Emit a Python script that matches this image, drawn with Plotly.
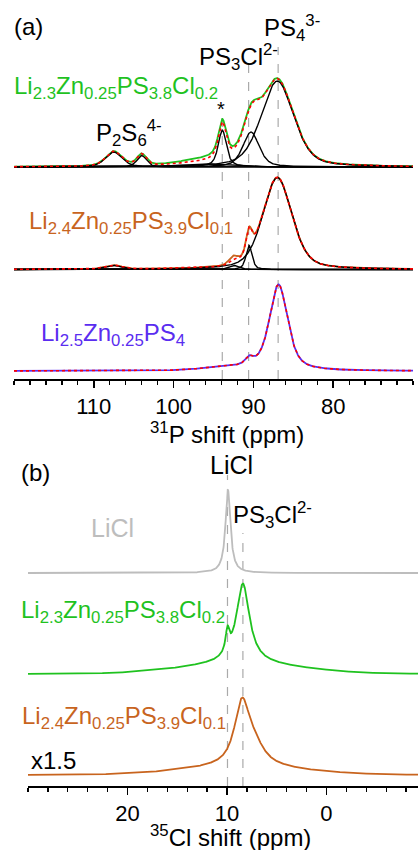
import numpy as np
import plotly.graph_objects as go

W, H = 418, 850
FONT = "Liberation Sans, Arial, sans-serif"

# ---------------- data: 31P spectra (panel a) ----------------
P_RANGE = [120, 70]
P_TICKS = [110, 100, 90, 80]
P_REFS = [93.9, 90.6, 86.9]          # *, PS3Cl2-, PS4 3- dashed guides
P_REF_TOPS = [264, 314, 332]

# component tables: centre (ppm), height, FWHM (ppm), lorentz fraction
TOP_C = [107.5, 104.0, 93.9, 90.3, 87.0, 96.0]
TOP_H = [15, 11.5, 37, 35, 86, 3]
TOP_W = [2.4, 1.4, 1.2, 2.4, 4.8, 8.0]
TOP_E = [0.5, 0.5, 0.7, 0.5, 0.4, 0.0]
TOP_EXTRA_C = [95.0]
TOP_EXTRA_H = [3]
TOP_EXTRA_W = [9]
TOP_BASE = 212

MID_C = [107.5, 92.4, 90.55, 87.0]
MID_H = [4, 4, 24, 92]
MID_W = [2.5, 1.5, 0.9, 4.3]
MID_E = [0.5, 0.5, 0.5, 0.4]
MID_EXTRA_C = [92.6]
MID_EXTRA_H = [4]
MID_EXTRA_W = [1.2]
MID_BASE = 109.5

BOT_C = [86.85, 90.5, 93.0]
BOT_H = [86, 7, 3]
BOT_W = [2.7, 1.2, 8.0]
BOT_E = [0.6, 0.5, 0.0]
BOT_BASE = 8

# ---------------- data: 35Cl spectra (panel b) ----------------
CL_RANGE = [30, -9.2]
CL_TICKS = [20, 10, 0]
CL_REFS = [9.95, 8.4]
CL_REF_TOPS = [311, 253]

LICL_C, LICL_H, LICL_W, LICL_E = [9.9], [83], [0.6], [1.0]
LICL_BASE = 213
G_C, G_H, G_W, G_E = [8.4, 9.95, 8.5], [80, 22, 10], [1.6, 0.45, 14], [1.0, 1.0, 0.0]
G_BASE = 112
O_C, O_H, O_W, O_E = [8.5, 7.3, 8.5], [60, 18, 8], [1.8, 2.5, 14], [0.9, 0.9, 0.0]
O_BASE = 11

GREEN = "#1fc21f"
ORANGE = "#c8641e"
BLUE = "#5a2df0"
GREY = "#bdbdbd"


def pv(x, x0, h, w, eta):
    u = ((x - x0) / (w / 2.0)) ** 2
    return h * (eta / (1 + u) + (1 - eta) * np.exp(-np.log(2) * u))


def total(x, C, Hh, Ww, E):
    return sum(pv(x, c, h, w, e) for c, h, w, e in zip(C, Hh, Ww, E))


xp = np.linspace(P_RANGE[0], P_RANGE[1], 1201)
xc = np.linspace(CL_RANGE[0], CL_RANGE[1], 1601)

fig = go.Figure()


def line(x, y, color, width=1.6, dash=None, xa="x", ya="y"):
    fig.add_trace(go.Scatter(x=x, y=y, mode="lines", xaxis=xa, yaxis=ya,
                             line=dict(color=color, width=width, dash=dash),
                             hoverinfo="skip", showlegend=False))


# top spectrum
fit = TOP_BASE + total(xp, TOP_C, TOP_H, TOP_W, TOP_E)
exp_ = fit + total(xp, TOP_EXTRA_C, TOP_EXTRA_H, TOP_EXTRA_W, [0.0])
line(xp, exp_, GREEN, 1.8)
for c, h, w, e in zip(TOP_C, TOP_H, TOP_W, TOP_E):
    line(xp, TOP_BASE + pv(xp, c, h, w, e), "black", 1.4)
line(xp, fit, "red", 1.6, "dot")

# middle spectrum
fit = MID_BASE + total(xp, MID_C, MID_H, MID_W, MID_E)
exp_ = fit + total(xp, MID_EXTRA_C, MID_EXTRA_H, MID_EXTRA_W, [0.5])
line(xp, exp_, ORANGE, 1.8)
for c, h, w, e in zip(MID_C, MID_H, MID_W, MID_E):
    line(xp, MID_BASE + pv(xp, c, h, w, e), "black", 1.4)
line(xp, fit, "red", 1.6, "dot")

# bottom spectrum
fit = BOT_BASE + total(xp, BOT_C, BOT_H, BOT_W, BOT_E)
line(xp, fit, BLUE, 1.8)
line(xp, fit, "red", 1.6, "dot")

# panel b
line(xc, LICL_BASE + total(xc, LICL_C, LICL_H, LICL_W, LICL_E), GREY, 1.8, xa="x2", ya="y2")
line(xc, G_BASE + total(xc, G_C, G_H, G_W, G_E), GREEN, 1.8, xa="x2", ya="y2")
line(xc, O_BASE + total(xc, O_C, O_H, O_W, O_E), ORANGE, 1.8, xa="x2", ya="y2")

# dashed guides
for v, t in zip(P_REFS, P_REF_TOPS):
    fig.add_shape(type="line", x0=v, x1=v, y0=0, y1=t, xref="x", yref="y",
                  line=dict(color="#aaaaaa", width=1.2, dash="dash"), layer="below")
for v, t in zip(CL_REFS, CL_REF_TOPS):
    fig.add_shape(type="line", x0=v, x1=v, y0=0, y1=t, xref="x2", yref="y2",
                  line=dict(color="#aaaaaa", width=1.2, dash="dash"), layer="below")


def px(x):
    return x / W


def py(y):
    return 1 - y / H


def ann(text, x, y, size, color="black", xanchor="left", yanchor="middle"):
    fig.add_annotation(text=text, x=px(x), y=py(y), xref="paper", yref="paper",
                       showarrow=False, xanchor=xanchor, yanchor=yanchor,
                       font=dict(family=FONT, size=size, color=color))


ann("(a)", 12, 27, 24)
ann("PS<sub>4</sub><sup>3-</sup>", 262, 28, 24)
ann("PS<sub>3</sub>Cl<sup>2-</sup>", 197, 57, 24)
ann("Li<sub>2.3</sub>Zn<sub>0.25</sub>PS<sub>3.8</sub>Cl<sub>0.2</sub>", 12, 88, 24, GREEN)
ann("*", 221, 109, 20, xanchor="center")
ann("P<sub>2</sub>S<sub>6</sub><sup>4-</sup>", 94, 133, 24)
ann("Li<sub>2.4</sub>Zn<sub>0.25</sub>PS<sub>3.9</sub>Cl<sub>0.1</sub>", 27, 223, 24, ORANGE)
ann("Li<sub>2.5</sub>Zn<sub>0.25</sub>PS<sub>4</sub>", 39, 334, 24, BLUE)
ann("<sup>31</sup>P shift (ppm)", 227, 433, 24, xanchor="center")

ann("(b)", 19, 472, 24)
ann("LiCl", 231, 465, 25, xanchor="center")
ann("PS<sub>3</sub>Cl<sup>2-</sup>", 231, 515, 24)
ann("LiCl", 89, 528, 25, GREY)
ann("Li<sub>2.3</sub>Zn<sub>0.25</sub>PS<sub>3.8</sub>Cl<sub>0.2</sub>", 19, 611, 24, GREEN)
ann("Li<sub>2.4</sub>Zn<sub>0.25</sub>PS<sub>3.9</sub>Cl<sub>0.1</sub>", 20, 717, 24, ORANGE)
ann("x1.5", 29, 760, 24)
ann("<sup>35</sup>Cl shift (ppm)", 230, 836, 24, xanchor="center")

axis_common = dict(showline=True, linecolor="black", linewidth=2, ticks="outside",
                   ticklen=7, tickwidth=1.5, tickcolor="black", showgrid=False,
                   zeroline=False, tickfont=dict(family=FONT, size=22, color="black"),
                   minor=dict(ticks="outside", ticklen=4, tickwidth=1.3,
                              tickcolor="black", dtick=2, tick0=0, showgrid=False))

fig.update_layout(
    width=W, height=H, margin=dict(l=0, r=0, t=0, b=0),
    paper_bgcolor="white", plot_bgcolor="white", showlegend=False,
    xaxis=dict(domain=[px(14), px(413)], range=P_RANGE, anchor="y",
               tickvals=P_TICKS, ticktext=[str(v) for v in P_TICKS], **axis_common),
    yaxis=dict(domain=[py(379), py(10)], range=[0, 369], visible=False, anchor="x"),
    xaxis2=dict(domain=[px(28), 1.0], range=CL_RANGE, anchor="y2",
                tickvals=CL_TICKS, ticktext=[str(v) for v in CL_TICKS], **axis_common),
    yaxis2=dict(domain=[py(786), py(440)], range=[0, 346], visible=False, anchor="x2"),
)

fig.write_html("out.html", config={"displayModeBar": False, "staticPlot": True},
               post_script="document.body.style.margin='0';document.body.style.overflow='hidden';")
